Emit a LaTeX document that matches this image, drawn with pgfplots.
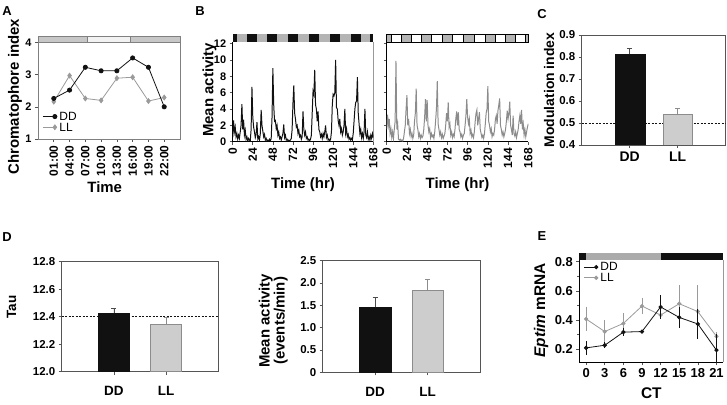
\documentclass[border=0pt]{standalone}
\usepackage{fontspec}
\setmainfont{Liberation Sans}
\usepackage{pgfplots}
\usepackage{pgfplotstable}
\pgfplotsset{compat=1.18}

\definecolor{dd}{HTML}{111111}
\definecolor{ll}{HTML}{9A9A9A}
\definecolor{lltrace}{HTML}{8C8C8C}
\definecolor{barll}{HTML}{CDCDCD}
\definecolor{edge}{HTML}{555555}
\definecolor{lightbar}{HTML}{B4B4B4}

\newcommand{\fs}[1]{\fontsize{#1}{#1}\selectfont}

% activity traces (panel B), hourly values
\pgfplotstableread[row sep=\\]{t v\\
0 0.5\\1 2.6\\2 1.2\\3 1.8\\4 0.6\\5 1.0\\6 0.3\\7 0.8\\8 0.4\\9 1.2\\10 2.0\\11 4.6\\12 1.5\\13 2.7\\14 0.8\\15 1.4\\16 0.3\\17 0.6\\18 0.1\\19 0.4\\20 0.2\\21 0.1\\22 1.5\\23 6.7\\24 3.0\\25 1.8\\26 1.2\\27 0.5\\28 0.9\\29 2.4\\30 0.3\\31 0.6\\32 0.2\\33 1.0\\34 3.9\\35 2.0\\36 1.3\\37 0.6\\38 0.9\\39 0.2\\40 0.4\\41 0.1\\42 0.2\\43 0.1\\44 0.3\\45 0.1\\46 0.4\\47 3.0\\48 9.0\\49 4.5\\50 2.5\\51 2.6\\52 1.6\\53 2.0\\
54 0.8\\55 1.2\\56 0.4\\57 0.6\\58 0.2\\59 0.6\\60 1.0\\61 2.1\\62 0.5\\63 0.8\\64 0.2\\65 0.3\\66 0.1\\67 0.2\\68 0.1\\69 0.2\\70 0.4\\71 1.5\\72 4.7\\73 6.9\\74 3.5\\75 2.8\\76 1.8\\77 2.0\\78 1.0\\79 1.4\\80 0.6\\81 0.8\\82 0.3\\83 0.6\\84 3.7\\85 1.5\\86 0.8\\87 1.2\\88 0.4\\89 0.6\\90 0.2\\91 0.3\\92 0.1\\93 0.3\\94 0.8\\95 3.5\\96 6.2\\97 5.8\\98 8.8\\99 4.5\\100 4.0\\101 2.5\\102 3.7\\103 1.5\\104 1.2\\105 0.6\\106 0.9\\107 0.4\\108 1.0\\109 0.6\\110 1.2\\111 2.0\\
112 0.5\\113 0.8\\114 0.2\\115 0.3\\116 0.1\\117 0.3\\118 1.2\\119 4.5\\120 5.8\\121 5.6\\122 6.0\\123 10.0\\124 4.2\\125 4.0\\126 2.6\\127 2.0\\128 2.8\\129 1.2\\130 1.6\\131 0.8\\132 1.2\\133 2.0\\134 4.0\\135 1.0\\136 1.6\\137 0.6\\138 0.9\\139 0.3\\140 0.5\\141 0.2\\142 0.4\\143 0.2\\144 1.0\\145 2.5\\146 4.0\\147 4.8\\148 5.0\\149 7.9\\150 3.5\\151 2.2\\152 1.0\\153 1.5\\154 0.5\\155 1.0\\156 0.4\\157 1.2\\158 4.0\\159 0.8\\160 0.5\\161 1.2\\162 0.3\\163 0.6\\164 0.2\\165 0.8\\166 0.4\\167 1.0\\168 0.5\\
}\ddtrace

\pgfplotstableread[row sep=\\]{t v\\
0 1.5\\1 3.3\\2 2.0\\3 2.8\\4 1.0\\5 1.6\\6 0.5\\7 1.2\\8 0.4\\9 1.5\\10 2.5\\11 9.9\\12 1.5\\13 2.2\\14 0.3\\15 0.2\\16 0.3\\17 0.1\\18 0.2\\19 0.1\\20 0.4\\21 1.2\\22 2.0\\23 4.0\\24 5.7\\25 2.0\\26 2.8\\27 1.0\\28 1.5\\29 0.6\\30 1.0\\31 0.4\\32 0.8\\33 2.5\\34 3.5\\35 6.5\\36 2.0\\37 1.5\\38 0.6\\39 1.0\\40 0.4\\41 0.8\\42 0.5\\43 0.7\\44 1.5\\45 3.0\\46 5.2\\47 2.5\\48 5.1\\49 2.0\\50 1.2\\51 1.6\\52 0.5\\53 1.0\\
54 0.6\\55 0.8\\56 0.4\\57 1.2\\58 2.5\\59 4.0\\60 7.4\\61 2.2\\62 1.5\\63 0.8\\64 1.2\\65 0.5\\66 0.9\\67 0.4\\68 0.7\\69 1.0\\70 2.0\\71 3.5\\72 2.5\\73 4.8\\74 1.8\\75 2.2\\76 0.8\\77 1.2\\78 0.5\\79 0.9\\80 0.6\\81 1.5\\82 2.8\\83 3.7\\84 2.0\\85 3.6\\86 1.5\\87 1.2\\88 0.6\\89 0.9\\90 0.4\\91 0.8\\92 1.0\\93 2.0\\94 3.2\\95 5.2\\96 3.0\\97 2.2\\98 2.8\\99 1.0\\100 1.4\\101 0.6\\102 0.9\\103 0.5\\104 1.2\\105 2.5\\106 3.5\\107 3.9\\108 2.0\\109 2.8\\110 3.6\\111 1.5\\
112 1.0\\113 0.5\\114 0.8\\115 0.4\\116 1.0\\117 2.2\\118 3.5\\119 4.0\\120 6.8\\121 2.5\\122 2.0\\123 1.2\\124 1.6\\125 0.6\\126 1.0\\127 0.8\\128 1.5\\129 2.8\\130 3.2\\131 2.2\\132 3.8\\133 4.5\\134 5.3\\135 2.0\\136 1.5\\137 0.8\\138 1.2\\139 0.6\\140 1.0\\141 1.5\\142 2.5\\143 3.8\\144 2.8\\145 3.5\\146 4.9\\147 2.0\\148 1.5\\149 0.8\\150 3.2\\151 1.0\\152 0.7\\153 1.2\\154 0.5\\155 1.0\\156 1.5\\157 2.5\\158 3.2\\159 2.2\\160 3.9\\161 1.5\\162 2.2\\163 0.8\\164 1.5\\165 0.6\\166 1.2\\167 1.8\\168 2.2\\
}\lltrace

\pgfplotsset{
  panel/.style={
    scale only axis, anchor=south west, clip mode=individual,
    axis line style={edge, line width=0.7pt},
    tick style={edge, line width=0.6pt},
    major tick length=3bp, minor tick length=2bp,
    tick align=outside, tick pos=left,
    /pgf/number format/assume math mode=true,
    ticklabel style={font=\bfseries\fs{11}},
    label style={font=\bfseries\fs{15}},
    every axis y label/.append style={anchor=center},
  },
  lg/.style={
    legend cell align=left, reverse legend,
    legend style={draw=none, fill=none, font=\fs{12}, row sep=0bp,
      inner sep=0bp, nodes={inner ysep=0.6bp, inner xsep=2.5bp, text height=8.5bp, text depth=1bp}},
    legend image code/.code={\draw[##1, mark indices={2}] plot coordinates {(0bp,0bp) (12bp,0bp)};},
  },
  errup/.style={error bars/.cd, y dir=plus, y explicit,
    error bar style={line width=0.8pt, #1},
    error mark options={rotate=90, mark size=2.5bp, line width=0.8pt, #1}},
}

\begin{document}
\begin{tikzpicture}
\path[use as bounding box] (0,0) rectangle (727bp,405bp);

% panel letters
\node[font=\bfseries\fs{13}] at (7bp,394bp) {A};
\node[font=\bfseries\fs{13}] at (200bp,394bp) {B};
\node[font=\bfseries\fs{13}] at (542bp,391bp) {C};
\node[font=\bfseries\fs{13}] at (7bp,168bp) {D};
\node[font=\bfseries\fs{13}] at (542bp,169bp) {E};

% ---------- A ----------
\begin{axis}[panel, lg, at={(38bp,266bp)}, width=142bp, height=96.5bp,
  xmin=-1, xmax=8, ymin=1, ymax=4, ytick={1,2,3,4},
  xtick={0,...,7}, xticklabels={01:00,04:00,07:00,10:00,13:00,16:00,19:00,22:00},
  xticklabel style={rotate=90, anchor=east, font=\bfseries\fs{12}},
  xlabel={Time}, ylabel={Chromatophore index},
  xlabel style={at={(axis description cs:0.47,-0.5)}, anchor=center},
  ylabel style={at={(axis description cs:-0.162,0.44)}},
  legend style={at={(axis description cs:0.03,0.29)}, anchor=north west},
  axis line style={black!50}]
\fill[black!22] (axis cs:-1,4) rectangle ([yshift=6bp]axis cs:2.15,4);
\fill[black!5] (axis cs:2.15,4) rectangle ([yshift=6bp]axis cs:4.83,4);
\fill[black!22] (axis cs:4.83,4) rectangle ([yshift=6bp]axis cs:8,4);
\draw[black!50, line width=0.5pt] (axis cs:-1,4) rectangle ([yshift=6bp]axis cs:8,4);
\draw[black!50, line width=0.5pt] (axis cs:2.15,4) -- ([yshift=6bp]axis cs:2.15,4);
\draw[black!50, line width=0.5pt] (axis cs:4.83,4) -- ([yshift=6bp]axis cs:4.83,4);
\addplot[ll, line width=0.8pt, mark=diamond*, mark size=2.4bp] coordinates {
  (0,2.16) (1,2.97) (2,2.26) (3,2.20) (4,2.89) (5,2.92) (6,2.18) (7,2.29)};
\addplot[dd, line width=0.8pt, mark=*, mark size=2.1bp] coordinates {
  (0,2.26) (1,2.52) (2,3.23) (3,3.12) (4,3.12) (5,3.52) (6,3.23) (7,2.00)};
\legend{LL,DD}
\end{axis}

% ---------- B (DD) ----------
\begin{axis}[panel, at={(232.7bp,263.3bp)}, width=140.6bp, height=99.7bp,
  xmin=0, xmax=168, ymin=0, ymax=12.2, xtick={0,24,...,168}, ytick={0,2,...,12},
  xticklabel style={rotate=90, anchor=east, font=\bfseries\fs{12}},
  xlabel={Time (hr)}, ylabel={Mean activity},
  xlabel style={at={(axis description cs:0.5,-0.43)}, anchor=center},
  ylabel style={at={(axis description cs:-0.165,0.52)}},
  axis line style={draw=none}]
\fill[lightbar] (axis cs:0,12.2) rectangle ([yshift=7.5bp]axis cs:168,12.2);
\fill[dd] (axis cs:0,12.2) rectangle ([yshift=7.5bp]axis cs:5,12.2);
\fill[dd] (axis cs:17,12.2) rectangle ([yshift=7.5bp]axis cs:29.5,12.2);
\fill[dd] (axis cs:41.5,12.2) rectangle ([yshift=7.5bp]axis cs:53,12.2);
\fill[dd] (axis cs:66,12.2) rectangle ([yshift=7.5bp]axis cs:78,12.2);
\fill[dd] (axis cs:91,12.2) rectangle ([yshift=7.5bp]axis cs:103.5,12.2);
\fill[dd] (axis cs:116.5,12.2) rectangle ([yshift=7.5bp]axis cs:128.5,12.2);
\fill[dd] (axis cs:141,12.2) rectangle ([yshift=7.5bp]axis cs:153,12.2);
\fill[dd] (axis cs:164,12.2) rectangle ([yshift=7.5bp]axis cs:168,12.2);
\draw[black!40, line width=1pt] (rel axis cs:1,0) -- (rel axis cs:1,1);
\draw[black, line width=0.7pt] (rel axis cs:0,1) -- (rel axis cs:0,0) -- (rel axis cs:1,0);
\addplot[dd, line width=1pt] table[x=t, y=v] {\ddtrace};
\end{axis}

% ---------- B (LL) ----------
\begin{axis}[panel, at={(386.7bp,263.3bp)}, width=141.6bp, height=99.7bp,
  xmin=0, xmax=168, ymin=0, ymax=12.2, xtick={0,24,...,168}, ytick={0,2,...,12},
  yticklabels={},
  xticklabel style={rotate=90, anchor=east, font=\bfseries\fs{12}},
  xlabel={Time (hr)},
  xlabel style={at={(axis description cs:0.5,-0.43)}, anchor=center},
  axis line style={draw=none}]
\filldraw[fill=white, draw=black, line width=0.5pt] (axis cs:0,12.2) rectangle ([yshift=7.5bp]axis cs:168,12.2);
\filldraw[fill=lightbar, draw=black, line width=0.5pt] (axis cs:0,12.2) rectangle ([yshift=7.5bp]axis cs:5,12.2);
\filldraw[fill=lightbar, draw=black, line width=0.5pt] (axis cs:17,12.2) rectangle ([yshift=7.5bp]axis cs:29.5,12.2);
\filldraw[fill=lightbar, draw=black, line width=0.5pt] (axis cs:41.5,12.2) rectangle ([yshift=7.5bp]axis cs:53,12.2);
\filldraw[fill=lightbar, draw=black, line width=0.5pt] (axis cs:66,12.2) rectangle ([yshift=7.5bp]axis cs:78,12.2);
\filldraw[fill=lightbar, draw=black, line width=0.5pt] (axis cs:91,12.2) rectangle ([yshift=7.5bp]axis cs:103.5,12.2);
\filldraw[fill=lightbar, draw=black, line width=0.5pt] (axis cs:116.5,12.2) rectangle ([yshift=7.5bp]axis cs:128.5,12.2);
\filldraw[fill=lightbar, draw=black, line width=0.5pt] (axis cs:141,12.2) rectangle ([yshift=7.5bp]axis cs:153,12.2);
\filldraw[fill=lightbar, draw=black, line width=0.5pt] (axis cs:164,12.2) rectangle ([yshift=7.5bp]axis cs:168,12.2);
\draw[black, line width=0.7pt] (rel axis cs:0,1) -- (rel axis cs:0,0) -- (rel axis cs:1,0);
\addplot[lltrace, line width=1pt] table[x=t, y=v] {\lltrace};
\end{axis}

% ---------- C ----------
\begin{axis}[panel, at={(581.7bp,260bp)}, width=144bp, height=110bp,
  xmin=0, xmax=3, ymin=0.4, ymax=0.9, ytick={0.4,0.5,0.6,0.7,0.8,0.9},
  ticklabel style={font=\bfseries\fs{11.5}},
  yticklabel style={/pgf/number format/.cd, fixed, fixed zerofill, precision=1},
  xtick={1,2}, xticklabels={DD,LL}, xticklabel style={font=\bfseries\fs{14}},
  ylabel={Modulation index}, ylabel style={font=\bfseries\fs{14}, at={(axis description cs:-0.227,0.5)}}]
\addplot[dd, dash pattern=on 2bp off 1.5bp, line width=0.5pt] coordinates {(0,0.5) (3,0.5)};
\addplot[ybar, bar width=30bp, bar shift=0pt, fill=dd, draw=dd, errup=black!70]
  coordinates {(1,0.812) +- (0,0.027)};
\addplot[ybar, bar width=29bp, bar shift=0pt, fill=barll, draw=black!45, line width=0.8pt, errup=black!45]
  coordinates {(2,0.541) +- (0,0.026)};
\end{axis}

% ---------- D (Tau) ----------
\begin{axis}[panel, at={(61.7bp,33.3bp)}, width=156.6bp, height=110bp,
  xmin=0, xmax=3, ymin=12, ymax=12.8, ytick={12,12.2,12.4,12.6,12.8},
  ticklabel style={font=\bfseries\fs{11.5}},
  yticklabel style={/pgf/number format/.cd, fixed, fixed zerofill, precision=1},
  xtick={1,2}, xticklabels={DD,LL}, xticklabel style={font=\bfseries\fs{13.5}, yshift=-8bp},
  ylabel={Tau}, ylabel style={font=\bfseries\fs{13.5}, at={(axis description cs:-0.32,0.59)}}]
\addplot[dd, dash pattern=on 2bp off 1.5bp, line width=0.5pt] coordinates {(0,12.4) (3,12.4)};
\addplot[ybar, bar width=31.5bp, bar shift=0pt, fill=dd, draw=dd, errup=black!70]
  coordinates {(1,12.424) +- (0,0.036)};
\addplot[ybar, bar width=31bp, bar shift=0pt, fill=barll, draw=black!45, line width=0.8pt, errup=black!45]
  coordinates {(2,12.344) +- (0,0.051)};
\end{axis}

% ---------- D (Mean activity) ----------
\begin{axis}[panel, at={(322.7bp,32.7bp)}, width=157.3bp, height=111.6bp,
  xmin=0, xmax=3, ymin=0, ymax=2.5, ytick={0,0.5,1,1.5,2,2.5},
  yticklabels={0,0.5,1.0,1.5,2.0,2.5},
  ticklabel style={font=\bfseries\fs{11.5}},
  xtick={1,2}, xticklabels={DD,LL}, xticklabel style={font=\bfseries\fs{13.5}, yshift=-8bp},
  ylabel={Mean activity\\(events/min)},
  ylabel style={align=center, at={(axis description cs:-0.314,0.46)}}]
\addplot[ybar, bar width=31.5bp, bar shift=0pt, fill=dd, draw=dd, errup=black!70]
  coordinates {(1,1.455) +- (0,0.225)};
\addplot[ybar, bar width=31bp, bar shift=0pt, fill=barll, draw=black!45, line width=0.8pt, errup=black!45]
  coordinates {(2,1.83) +- (0,0.25)};
\end{axis}

% ---------- E ----------
\begin{axis}[panel, lg, at={(579.3bp,42.7bp)}, width=144bp, height=102.3bp,
  xmin=-1.1, xmax=22.1, ymin=0.11, ymax=0.812,
  xtick={0,3,...,21}, ytick={0.2,0.4,0.6,0.8}, minor ytick={0.3,0.5,0.7},
  yticklabel style={/pgf/number format/.cd, fixed, fixed zerofill, precision=1},
  ticklabel style={font=\bfseries\fs{13}},
  xlabel={CT}, ylabel={\textit{Eptim} mRNA},
  label style={font=\bfseries\fs{15.5}},
  xlabel style={at={(axis description cs:0.5,-0.3)}, anchor=center},
  ylabel style={at={(axis description cs:-0.265,0.51)}},
  legend style={at={(axis description cs:0.03,0.985)}, anchor=north west},
  axis line style={draw=none}]
\fill[dd] (axis cs:-1.1,0.812) rectangle ([yshift=6.7bp]axis cs:0,0.812);
\fill[black!33] (axis cs:0,0.812) rectangle ([yshift=6.7bp]axis cs:12,0.812);
\fill[dd] (axis cs:12,0.812) rectangle ([yshift=6.7bp]axis cs:22.1,0.812);
\draw[black!40, line width=1.2pt] (rel axis cs:1,0) -- (rel axis cs:1,1);
\draw[black, line width=0.7pt] (rel axis cs:0,1) -- (rel axis cs:0,0) -- (rel axis cs:1,0);
\addplot[ll, line width=0.8pt, mark=*, mark size=1.7bp,
  error bars/.cd, y dir=both, y explicit, error mark=none, error bar style={line width=0.8pt, ll}]
  coordinates {(0,0.407) +- (0,0.08) (3,0.321) +- (0,0.078) (6,0.377) +- (0,0.07)
  (9,0.496) +- (0,0.056) (12,0.434) +- (0,0.015) (15,0.512) +- (0,0.13)
  (18,0.458) +- (0,0.18) (21,0.288) +- (0,0.03)};
\addplot[dd, line width=0.8pt, mark=*, mark size=1.7bp,
  error bars/.cd, y dir=both, y explicit, error mark=none, error bar style={line width=0.8pt, dd}]
  coordinates {(0,0.209) +- (0,0.047) (3,0.227) +- (0,0.02) (6,0.317) +- (0,0.027)
  (9,0.321) +- (0,0.01) (12,0.49) +- (0,0.085) (15,0.418) +- (0,0.072)
  (18,0.373) +- (0,0.1) (21,0.193) +- (0,0.11)};
\legend{LL,DD}
\end{axis}
\end{tikzpicture}
\end{document}
